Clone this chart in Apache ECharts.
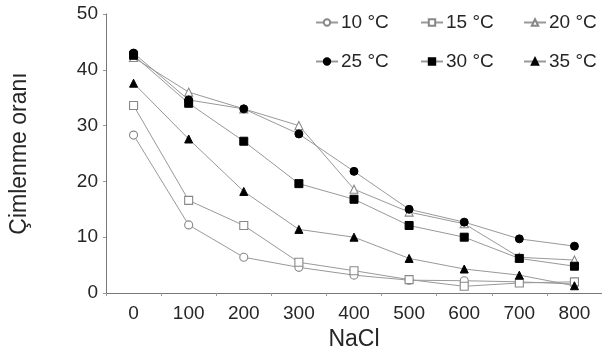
<!DOCTYPE html>
<html>
<head>
<meta charset="utf-8">
<script src="https://cdn.jsdelivr.net/npm/echarts@6/dist/echarts.min.js"></script>
<style>
html,body{margin:0;padding:0;background:#fff;}
#c{width:602px;height:356px;}
</style>
</head>
<body>
<div id="c"></div>
<script>
const categories = ['0','100','200','300','400','500','600','700','800'];
const seriesNames = ['10 °C','15 °C','20 °C','25 °C','30 °C','35 °C'];
const t10 = [28.3, 12.2, 6.4, 4.6, 3.2, 2.3, 2.2, 2.0, 1.6];
const t15 = [33.6, 16.6, 12.1, 5.5, 4.0, 2.4, 1.2, 1.8, 2.0];
const t20 = [42.2, 36.0, 33.0, 30.0, 18.6, 14.5, 12.4, 6.4, 5.9];
const t25 = [43.0, 34.6, 33.0, 28.5, 21.8, 15.0, 12.7, 9.7, 8.4];
const t30 = [42.6, 34.0, 27.2, 19.6, 16.8, 12.1, 10.0, 6.2, 4.8];
const t35 = [37.6, 27.6, 18.2, 11.4, 10.0, 6.2, 4.3, 3.2, 1.3];
const yTicks = [0, 10, 20, 30, 40, 50];

const values = [t10, t15, t20, t25, t30, t35];
const symbols = ['circle','rect','triangle','circle','rect','triangle'];
const filled = [false,false,false,true,true,true];
const lineColor = '#999';
const textColor = '#262626';
const font = 'Liberation Sans, Arial, sans-serif';

const series = seriesNames.map((n, i) => ({
  name: n,
  type: 'line',
  data: values[i],
  symbol: symbols[i],
  symbolSize: 8,
  showAllSymbol: true,
  z: filled[i] ? 3 : 2,
  lineStyle: { color: lineColor, width: 1 },
  itemStyle: filled[i]
    ? { color: '#000', borderColor: '#000', borderWidth: 1 }
    : { color: '#fff', borderColor: '#888', borderWidth: 1.1 },
  emphasis: { disabled: true },
  animation: false
}));

const legendPos = [
  {left: 315, top: 13}, {left: 420, top: 13}, {left: 523, top: 13},
  {left: 315, top: 52}, {left: 420, top: 52}, {left: 523, top: 52}
];
const legends = seriesNames.map((n, i) => ({
  data: [n],
  left: legendPos[i].left,
  top: legendPos[i].top,
  itemWidth: 22,
  itemHeight: 8,
  itemGap: 4,
  padding: 0,
  selectedMode: false,
  textStyle: { fontSize: 19, color: textColor, fontFamily: font, padding: [0,0,0,-2] }
}));

const chart = echarts.init(document.getElementById('c'), null, {renderer: 'canvas'});
chart.setOption({
  animation: false,
  backgroundColor: '#fff',
  legend: legends,
  grid: { left: 103, right: 0, top: 14, bottom: 62, containLabel: false },
  xAxis: {
    type: 'category',
    data: categories,
    boundaryGap: true,
    name: 'NaCl',
    nameLocation: 'middle',
    nameGap: 35,
    nameTextStyle: { fontSize: 23, color: textColor, fontFamily: font },
    axisLine: { lineStyle: { color: '#777', width: 1 } },
    axisTick: { show: true, length: 3, lineStyle: { color: '#999' } },
    axisLabel: { fontSize: 19, color: textColor, fontFamily: font, margin: 11 },
    splitLine: { show: false }
  },
  yAxis: {
    type: 'value',
    min: 0, max: 50, interval: 10,
    name: 'Çimlenme oranı',
    nameLocation: 'middle',
    nameGap: 75,
    nameRotate: 90,
    nameTextStyle: { fontSize: 23, color: textColor, fontFamily: font },
    axisLine: { show: true, lineStyle: { color: '#777', width: 1 } },
    axisTick: { show: true, length: 3, lineStyle: { color: '#999' } },
    axisLabel: { fontSize: 19, color: textColor, fontFamily: font, margin: 8,
      formatter: v => yTicks.includes(v) ? String(v) : '' },
    splitLine: { show: false }
  },
  series: series
});
</script>
</body>
</html>
